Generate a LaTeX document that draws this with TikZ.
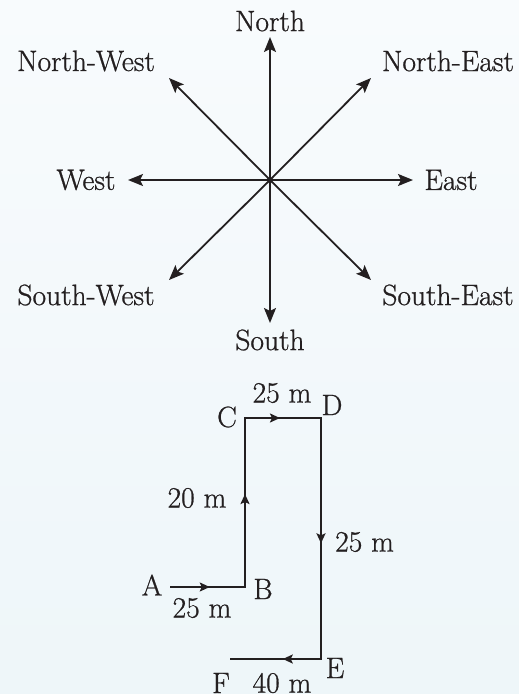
\documentclass[tikz,border=0pt]{standalone}
\usepackage{fontspec}
\setmainfont{Latin Modern Roman}
\newfontfamily\lblfont{Latin Modern Roman}[FakeBold=0.8]
\usetikzlibrary{arrows.meta,decorations.markings}
\begin{document}
\begin{tikzpicture}[x=1pt,y=-1pt,
  lbl/.style={font=\lblfont\fontsize{29.5}{35}\selectfont, inner sep=0pt, text={rgb,255:red,35;green,31;blue,32}},
  ray/.style={line width=1.8pt, draw={rgb,255:red,35;green,31;blue,32}, -{Stealth[length=15pt,width=12pt,inset=3pt]}},
  pathline/.style={line width=1.8pt, draw={rgb,255:red,35;green,31;blue,32}},
  midarrow/.style={postaction={decorate}, decoration={markings,
     mark=at position #1 with {\arrow{Stealth[length=10pt,width=9pt,inset=2pt]}}}}
]
\shade[top color={rgb,255:red,248;green,251;blue,253}, bottom color={rgb,255:red,238;green,246;blue,249}] (0,0) rectangle (519,694);
\useasboundingbox (0,0) rectangle (519,694);
% compass
\coordinate (O) at (270,180);
\coordinate (n) at (270,37);
\coordinate (s) at (270,323);
\coordinate (w) at (128,180);
\coordinate (e) at (413,180);
\coordinate (ne) at (371,78);
\coordinate (nw) at (169,78);
\coordinate (sw) at (169,280);
\coordinate (se) at (371,280);
\foreach \t in {n,s,w,e,ne,nw,sw,se} \draw[ray] (O) -- (\t);
\node[lbl] (tN) at (270,21) {North};
\node[lbl] (tNW) at (86,61) {North-West};
\node[lbl] (tNE) at (448,61) {North-East};
\node[lbl] (tW) at (86,180) {West};
\node[lbl] (tE) at (451,180) {East};
\node[lbl] (tSW) at (86,295) {South-West};
\node[lbl] (tSE) at (448,295) {South-East};
\node[lbl] (tS) at (270,340) {South};
% path
\coordinate (A) at (170,587);
\coordinate (B) at (245,587);
\coordinate (C) at (245,418);
\coordinate (D) at (321,418);
\coordinate (E) at (321,659);
\coordinate (F) at (230,659);
\draw[pathline, midarrow=0.53] (A) -- (B);
\draw[pathline, midarrow=0.55] (B) -- (C);
\draw[pathline, midarrow=0.46] (C) -- (D);
\draw[pathline, midarrow=0.52] (D) -- (E);
\draw[pathline, midarrow=0.42] (E) -- (F);
\draw[pathline] (A) -- (B) -- (C) -- (D) -- (E) -- (F);
\node[lbl] (lA) at (152,585) {A};
\node[lbl] (lB) at (263,589) {B};
\node[lbl] (lC) at (227,417) {C};
\node[lbl] (lD) at (332,405) {D};
\node[lbl] (lE) at (335,668) {E};
\node[lbl] (lF) at (221,683) {F};
\node[lbl] (dAB) at (202,608) {25 m};
\node[lbl] (dBC) at (197,498) {20 m};
\node[lbl] (dCD) at (282,393) {25 m};
\node[lbl, anchor=west] (dDE) at (335,542) {25 m};
\node[lbl] (dEF) at (282,683) {40 m};
\end{tikzpicture}
\end{document}
